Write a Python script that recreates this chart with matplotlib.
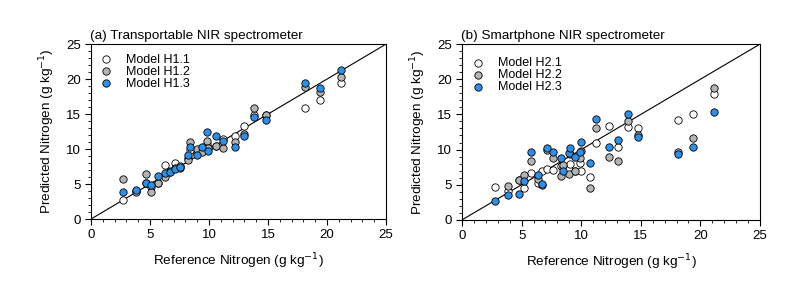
import matplotlib
matplotlib.use("Agg")
import matplotlib.pyplot as plt
from matplotlib.ticker import MultipleLocator

plt.rcParams['font.family'] = ['Liberation Sans', 'DejaVu Sans']

# ---- Panel (a): Transportable NIR spectrometer ----
a_x = [2.7, 3.8, 4.7, 5.1, 5.7, 6.3, 6.7, 7.1, 7.5, 8.2, 8.4, 8.95, 9.4, 9.8, 9.95,
       10.6, 11.2, 12.2, 13.0, 13.8, 14.8, 18.1, 19.4, 21.2]
a_h11 = [2.7, 4.0, 5.1, 4.6, 5.2, 7.7, 6.8, 7.95, 7.6, 8.7, 9.9, 9.4, 9.8, 10.7, 10.1,
         10.5, 11.5, 11.9, 13.3, 14.9, 14.9, 15.8, 17.0, 19.5]
a_h12 = [5.7, 3.9, 6.4, 3.9, 5.1, 6.0, 6.7, 7.3, 7.3, 8.4, 10.95, 10.0, 9.6, 11.2, 10.1,
         10.5, 10.2, 11.0, 12.2, 15.8, 14.9, 18.9, 18.2, 20.3]
a_h13 = [3.8, 4.1, 5.2, 4.8, 6.2, 6.6, 6.7, 7.2, 7.5, 9.2, 10.3, 9.2, 10.3, 12.5, 9.7,
         11.8, 11.2, 10.3, 11.9, 14.6, 14.2, 19.5, 18.7, 21.3]

# ---- Panel (b): Smartphone NIR spectrometer ----
b_x = [2.75, 3.9, 4.75, 5.2, 5.75, 6.4, 6.75, 7.15, 7.6, 8.3, 8.5, 8.95, 9.05, 9.5,
       9.9, 10.0, 10.7, 11.2, 12.3, 13.05, 13.9, 14.8, 18.1, 19.4, 21.1]
b_h21 = [4.7, 4.1, 5.7, 4.5, 6.6, 5.2, 7.0, 7.3, 7.1, 7.7, 7.5, 7.3, 8.0, 7.0,
         8.1, 6.9, 6.1, 11.0, 13.3, 10.4, 13.2, 13.1, 14.2, 15.1, 17.9]
b_h22 = [None, 4.85, 5.7, 6.4, 8.4, 5.8, 5.0, 10.0, 8.8, 6.3, 7.8, 6.5, 9.3, 7.0,
         8.85, 9.8, 4.5, 13.1, 8.9, 8.4, 14.1, 12.0, 9.65, 11.7, 18.8]
b_h23 = [2.7, 3.6, 3.7, 5.6, 9.6, 6.4, 5.1, 10.2, 9.7, 8.85, 7.0, 9.5, 10.2, 8.9,
         9.7, 11.1, 8.1, 14.3, 10.4, 11.3, 15.1, 11.8, 9.4, 10.4, 15.3]

ticks = [0, 5, 10, 15, 20, 25]

fig = plt.figure(figsize=(7.93, 2.92), dpi=100)
ax1 = fig.add_axes([0.1148, 0.25, 0.372, 0.599])
ax2 = fig.add_axes([0.5826, 0.247, 0.3758, 0.602])

white = '#ffffff'
gray = '#b4b4b4'
blue = '#2f8fe6'
fs_lab = 9.7
fs_tick = 9.5
fs_leg = 9.0


def panel(ax, x, s1, s2, s3, labels, title, leg_anchor, htp):
    def clean(xs, ys):
        pts = [(a, b) for a, b in zip(xs, ys) if b is not None]
        return [p[0] for p in pts], [p[1] for p in pts]
    ax.plot([0, 25], [0, 25], color='black', lw=0.8, zorder=1)
    for ys, c, lab in [(s1, white, labels[0]), (s2, gray, labels[1]), (s3, blue, labels[2])]:
        xx, yy = clean(x, ys)
        ax.scatter(xx, yy, s=28, facecolor=c, edgecolor='black', linewidth=0.6,
                   label=lab, zorder=3)
    ax.set_xlim(0, 25)
    ax.set_ylim(0, 25)
    ax.set_xticks(ticks)
    ax.set_yticks(ticks)
    ax.xaxis.set_minor_locator(MultipleLocator(1))
    ax.yaxis.set_minor_locator(MultipleLocator(1))
    ax.tick_params(which='major', direction='out', length=4, width=0.8,
                   labelsize=fs_tick, top=False, right=False)
    ax.tick_params(which='minor', direction='out', length=2.2, width=0.6,
                   top=False, right=False)
    for sp in ax.spines.values():
        sp.set_linewidth(0.8)
    ax.set_xlabel('Reference Nitrogen (g kg$^{-1}$)', fontsize=fs_lab, labelpad=7)
    ax.set_ylabel('Predicted Nitrogen (g kg$^{-1}$)', fontsize=fs_lab, labelpad=6)
    ax.set_title(title, fontsize=fs_lab, loc='left', pad=4, x=-0.005)
    ax.legend(loc='upper left', bbox_to_anchor=leg_anchor, frameon=False,
              fontsize=fs_leg, labelspacing=0.0, handletextpad=htp,
              borderaxespad=0.0, borderpad=0.0, handlelength=1.2, scatterpoints=1)


panel(ax1, a_x, a_h11, a_h12, a_h13,
      ['Model H1.1', 'Model H1.2', 'Model H1.3'],
      '(a) Transportable NIR spectrometer', (0.024, 0.946), 1.05)
panel(ax2, b_x, b_h21, b_h22, b_h23,
      ['Model H2.1', 'Model H2.2', 'Model H2.3'],
      '(b) Smartphone NIR spectrometer', (0.028, 0.926), 1.0)

fig.savefig('out.png', dpi=100)
